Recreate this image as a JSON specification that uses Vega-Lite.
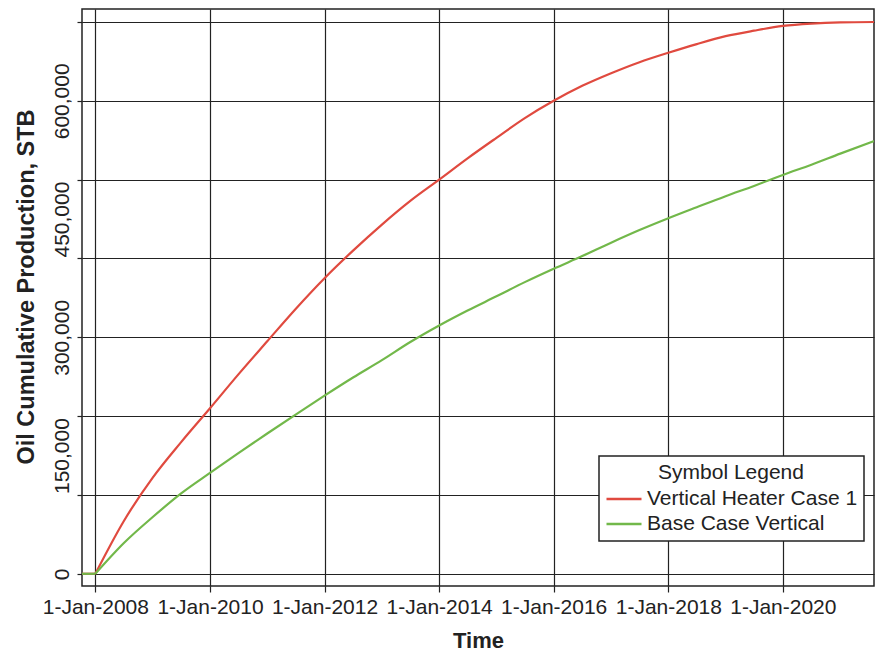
{
  "$schema": "https://vega.github.io/schema/vega-lite/v6.json",
  "width": 792,
  "height": 577,
  "autosize": {"type": "none"},
  "padding": {"left": 82, "top": 9, "right": 3, "bottom": 66},
  "background": "white",
  "config": {
    "font": "Liberation Sans",
    "view": {"stroke": "#222", "strokeWidth": 1.5},
    "axis": {
      "domain": false,
      "grid": true,
      "gridColor": "#222",
      "gridWidth": 1.2,
      "gridOpacity": 1,
      "ticks": true,
      "tickColor": "#222",
      "tickWidth": 1.2,
      "labelColor": "#222",
      "labelFontSize": 21,
      "labelFont": "Liberation Sans",
      "titleColor": "#222",
      "titleFont": "Liberation Sans",
      "titleFontWeight": "bold",
      "labelOverlap": false,
      "labelFlush": false
    },
    "legend": {"strokeWidth": 1.5}
  },
  "data": {
    "values": [
      {"case": "Vertical Heater Case 1", "phase": "shut-in", "date": "2007-10-08", "oil": 0},
      {"case": "Vertical Heater Case 1", "phase": "shut-in", "date": "2008-01-01", "oil": 0},
      {"case": "Vertical Heater Case 1", "phase": "producing", "date": "2008-01-01", "oil": 0},
      {"case": "Vertical Heater Case 1", "phase": "producing", "date": "2008-07-01", "oil": 67000},
      {"case": "Vertical Heater Case 1", "phase": "producing", "date": "2009-01-01", "oil": 122000},
      {"case": "Vertical Heater Case 1", "phase": "producing", "date": "2009-07-01", "oil": 167000},
      {"case": "Vertical Heater Case 1", "phase": "producing", "date": "2010-01-01", "oil": 210000},
      {"case": "Vertical Heater Case 1", "phase": "producing", "date": "2010-07-01", "oil": 253000},
      {"case": "Vertical Heater Case 1", "phase": "producing", "date": "2011-01-01", "oil": 295000},
      {"case": "Vertical Heater Case 1", "phase": "producing", "date": "2011-07-01", "oil": 336000},
      {"case": "Vertical Heater Case 1", "phase": "producing", "date": "2012-01-01", "oil": 375000},
      {"case": "Vertical Heater Case 1", "phase": "producing", "date": "2012-07-01", "oil": 410000},
      {"case": "Vertical Heater Case 1", "phase": "producing", "date": "2013-01-01", "oil": 443000},
      {"case": "Vertical Heater Case 1", "phase": "producing", "date": "2013-07-01", "oil": 473000},
      {"case": "Vertical Heater Case 1", "phase": "producing", "date": "2014-01-01", "oil": 500000},
      {"case": "Vertical Heater Case 1", "phase": "producing", "date": "2014-07-01", "oil": 527000},
      {"case": "Vertical Heater Case 1", "phase": "producing", "date": "2015-01-01", "oil": 553000},
      {"case": "Vertical Heater Case 1", "phase": "producing", "date": "2015-07-01", "oil": 578000},
      {"case": "Vertical Heater Case 1", "phase": "producing", "date": "2016-01-01", "oil": 600000},
      {"case": "Vertical Heater Case 1", "phase": "producing", "date": "2016-07-01", "oil": 619000},
      {"case": "Vertical Heater Case 1", "phase": "producing", "date": "2017-01-01", "oil": 635000},
      {"case": "Vertical Heater Case 1", "phase": "producing", "date": "2017-07-01", "oil": 649000},
      {"case": "Vertical Heater Case 1", "phase": "producing", "date": "2018-01-01", "oil": 661000},
      {"case": "Vertical Heater Case 1", "phase": "producing", "date": "2018-07-01", "oil": 672000},
      {"case": "Vertical Heater Case 1", "phase": "producing", "date": "2019-01-01", "oil": 682000},
      {"case": "Vertical Heater Case 1", "phase": "producing", "date": "2019-07-01", "oil": 689000},
      {"case": "Vertical Heater Case 1", "phase": "producing", "date": "2020-01-01", "oil": 695000},
      {"case": "Vertical Heater Case 1", "phase": "producing", "date": "2020-07-01", "oil": 698000},
      {"case": "Vertical Heater Case 1", "phase": "producing", "date": "2021-01-01", "oil": 699500},
      {"case": "Vertical Heater Case 1", "phase": "producing", "date": "2021-08-04", "oil": 700000},
      {"case": "Base Case Vertical", "phase": "shut-in", "date": "2007-10-08", "oil": 0},
      {"case": "Base Case Vertical", "phase": "shut-in", "date": "2008-01-01", "oil": 0},
      {"case": "Base Case Vertical", "phase": "producing", "date": "2008-01-01", "oil": 0},
      {"case": "Base Case Vertical", "phase": "producing", "date": "2008-07-01", "oil": 39000},
      {"case": "Base Case Vertical", "phase": "producing", "date": "2009-01-01", "oil": 72000},
      {"case": "Base Case Vertical", "phase": "producing", "date": "2009-07-01", "oil": 102000},
      {"case": "Base Case Vertical", "phase": "producing", "date": "2010-01-01", "oil": 128000},
      {"case": "Base Case Vertical", "phase": "producing", "date": "2010-07-01", "oil": 153000},
      {"case": "Base Case Vertical", "phase": "producing", "date": "2011-01-01", "oil": 178000},
      {"case": "Base Case Vertical", "phase": "producing", "date": "2011-07-01", "oil": 202000},
      {"case": "Base Case Vertical", "phase": "producing", "date": "2012-01-01", "oil": 226000},
      {"case": "Base Case Vertical", "phase": "producing", "date": "2012-07-01", "oil": 249000},
      {"case": "Base Case Vertical", "phase": "producing", "date": "2013-01-01", "oil": 271000},
      {"case": "Base Case Vertical", "phase": "producing", "date": "2013-07-01", "oil": 294000},
      {"case": "Base Case Vertical", "phase": "producing", "date": "2014-01-01", "oil": 315000},
      {"case": "Base Case Vertical", "phase": "producing", "date": "2014-07-01", "oil": 334000},
      {"case": "Base Case Vertical", "phase": "producing", "date": "2015-01-01", "oil": 352000},
      {"case": "Base Case Vertical", "phase": "producing", "date": "2015-07-01", "oil": 370000},
      {"case": "Base Case Vertical", "phase": "producing", "date": "2016-01-01", "oil": 387000},
      {"case": "Base Case Vertical", "phase": "producing", "date": "2016-07-01", "oil": 403000},
      {"case": "Base Case Vertical", "phase": "producing", "date": "2017-01-01", "oil": 420000},
      {"case": "Base Case Vertical", "phase": "producing", "date": "2017-07-01", "oil": 436000},
      {"case": "Base Case Vertical", "phase": "producing", "date": "2018-01-01", "oil": 451000},
      {"case": "Base Case Vertical", "phase": "producing", "date": "2018-07-01", "oil": 465000},
      {"case": "Base Case Vertical", "phase": "producing", "date": "2019-01-01", "oil": 479000},
      {"case": "Base Case Vertical", "phase": "producing", "date": "2019-07-01", "oil": 492000},
      {"case": "Base Case Vertical", "phase": "producing", "date": "2020-01-01", "oil": 506000},
      {"case": "Base Case Vertical", "phase": "producing", "date": "2020-07-01", "oil": 519000},
      {"case": "Base Case Vertical", "phase": "producing", "date": "2021-01-01", "oil": 533000},
      {"case": "Base Case Vertical", "phase": "producing", "date": "2021-08-04", "oil": 549000}
    ]
  },
  "mark": {"type": "line", "strokeWidth": 2.2, "interpolate": "monotone", "clip": true},
  "encoding": {
    "x": {
      "field": "date",
      "type": "temporal",
      "scale": {
        "type": "utc",
        "domain": [
          {"year": 2007, "month": 10, "date": 8, "utc": true},
          {"year": 2021, "month": 8, "date": 4, "utc": true}
        ]
      },
      "axis": {
        "values": [
          {"year": 2008, "month": 1, "date": 1, "utc": true},
          {"year": 2010, "month": 1, "date": 1, "utc": true},
          {"year": 2012, "month": 1, "date": 1, "utc": true},
          {"year": 2014, "month": 1, "date": 1, "utc": true},
          {"year": 2016, "month": 1, "date": 1, "utc": true},
          {"year": 2018, "month": 1, "date": 1, "utc": true},
          {"year": 2020, "month": 1, "date": 1, "utc": true}
        ],
        "format": "%-d-%b-%Y",
        "tickSize": 6,
        "labelPadding": 4,
        "title": "Time",
        "titleFontSize": 22,
        "titleBaseline": "alphabetic",
        "titleY": 61
      }
    },
    "y": {
      "field": "oil",
      "type": "quantitative",
      "scale": {"domain": [-15500, 716500], "nice": false, "zero": false},
      "axis": {
        "values": [0, 100000, 150000, 200000, 300000, 400000, 450000, 500000, 600000, 700000],
        "labelExpr": "datum.value % 150000 === 0 ? format(datum.value, ',') : ''",
        "gridOpacity": {"condition": {"test": "datum.value % 100000 !== 0", "value": 0}, "value": 1},
        "tickOpacity": {"condition": {"test": "datum.value % 100000 !== 0", "value": 0}, "value": 1},
        "tickSize": 5,
        "labelAngle": 270,
        "labelAlign": "center",
        "labelBaseline": "alphabetic",
        "labelPadding": 9,
        "title": "Oil Cumulative Production, STB",
        "titleFontSize": 23.5,
        "titleAngle": 270,
        "titleAlign": "center",
        "titleBaseline": "alphabetic",
        "titleX": -49,
        "titleY": 277.5
      }
    },
    "detail": {"field": "phase", "type": "nominal"},
    "color": {
      "field": "case",
      "type": "nominal",
      "scale": {
        "domain": ["Vertical Heater Case 1", "Base Case Vertical"],
        "range": ["#e04a3f", "#72b84a"]
      },
      "legend": {
        "title": "Symbol Legend",
        "orient": "none",
        "legendX": 517,
        "legendY": 447,
        "direction": "vertical",
        "strokeColor": "#222",
        "fillColor": "white",
        "padding": 6,
        "titleAnchor": "middle",
        "titleFontSize": 21,
        "titleFontWeight": "normal",
        "titleColor": "#222",
        "titlePadding": 5,
        "titleLimit": 400,
        "labelFontSize": 21,
        "labelColor": "#222",
        "labelLimit": 400,
        "labelOffset": 4,
        "symbolType": "stroke",
        "symbolSize": 1225,
        "symbolStrokeWidth": 2.5,
        "clipHeight": 22,
        "rowPadding": 3
      }
    }
  }
}
